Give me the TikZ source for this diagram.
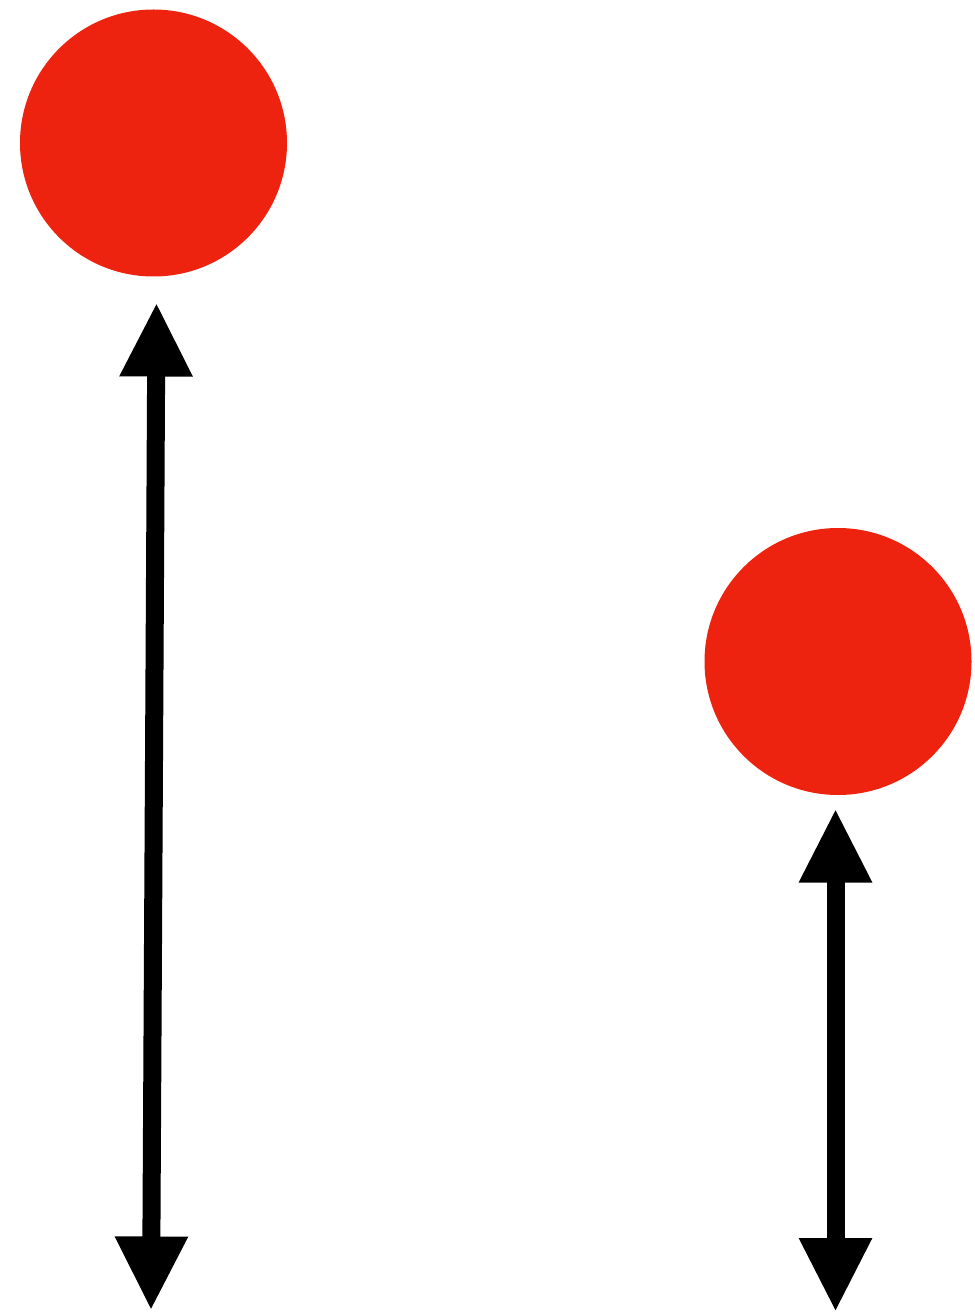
\documentclass[tikz,border=0pt]{standalone}
\usetikzlibrary{arrows.meta}
\definecolor{ballred}{RGB}{238,35,15}
\begin{document}
\begin{tikzpicture}[x=1pt,y=-1pt,
  ball/.style={circle,fill=ballred,draw=none,inner sep=0pt,minimum size=267pt},
  dblarrow/.style={line width=18pt,{Triangle[length=74pt,width=68pt]}-{Triangle[length=74pt,width=68pt]}}]
\useasboundingbox (0,0) rectangle (974,1313);
\node[ball] (c1) at (153.5,143) {};
\node[ball] (c2) at (838,661.5) {};
\coordinate (a1top) at (156.5,302.5);
\coordinate (a1bot) at (151,1310.5);
\coordinate (a2top) at (835.5,808.5);
\coordinate (a2bot) at (835.5,1312);
\draw[dblarrow] (a1top) -- (a1bot);
\draw[dblarrow] (a2top) -- (a2bot);
\end{tikzpicture}
\end{document}
